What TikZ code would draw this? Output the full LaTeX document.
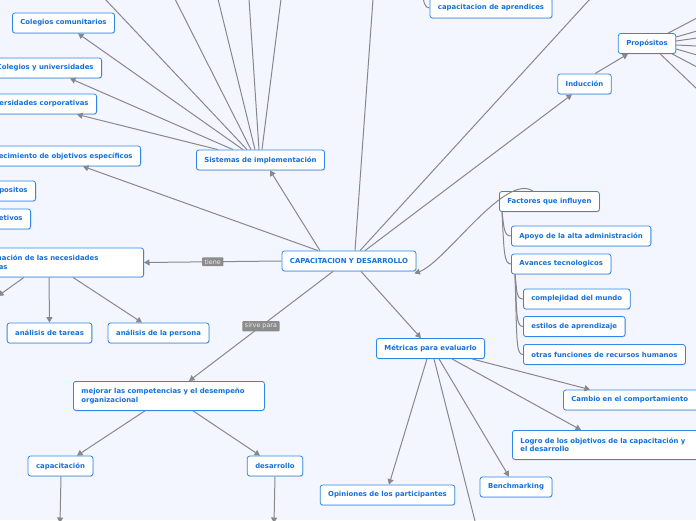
\documentclass[tikz,border=0pt]{standalone}
\usepackage{fontspec}
\setmainfont{DejaVu Sans}
\usetikzlibrary{arrows.meta, shadows}

\definecolor{bgblue}{RGB}{243,246,254}
\definecolor{topicblue}{RGB}{48,136,230}
\definecolor{topictext}{RGB}{20,112,216}
\definecolor{linkgray}{RGB}{136,136,140}
\definecolor{labelgray}{RGB}{140,140,140}

\begin{document}
\begin{tikzpicture}[x=1pt, y=-1pt, >={Triangle[width=6pt, length=5.5pt]},
    topic/.style={draw=topicblue, fill=white, text=topictext, line width=0.8pt,
        rounded corners=2.5pt, font=\fontsize{6.9}{8.6}\selectfont\bfseries,
        inner xsep=8pt, inner ysep=0pt, minimum height=20pt,
        drop shadow={shadow xshift=0.6pt, shadow yshift=-0.9pt, opacity=0.25}},
    widetopic/.style={topic, align=left, text width=#1, minimum height=29pt},
    link/.style={linkgray, line width=1pt},
    linklabel/.style={fill=labelgray, text=white!92!black, font=\fontsize{6.4}{7}\selectfont,
        inner xsep=2.5pt, inner ysep=2pt, rounded corners=0.8pt}]
    \fill[bgblue] (0,0) rectangle (696,520);
    \useasboundingbox (0,0) rectangle (696,520);
    \clip (0,0) rectangle (696,520);

    \node[topic] (cyd) at (349,261) {CAPACITACION Y DESARROLLO};
    \node[topic] (sis) at (260.5,160) {Sistemas de implementación};
    \node[topic] (ccom) at (63.5,23) {Colegios comunitarios};
    \node[topic, anchor=east] (cuni) at (102,68) {Colegios y universidades};
    \node[topic, anchor=east] (ucorp) at (97,104) {Universidades corporativas};
    \node[topic, anchor=east] (estab) at (141,156) {Establecimiento de objetivos específicos};
    \node[topic, anchor=east] (props) at (36,191) {Propositos};
    \node[topic, anchor=east] (objs) at (31,219) {Objetivos};
    \node[widetopic=170pt, anchor=east] (deter) at (144,262.5) {Determinación de las necesidades\\formativas};
    \node[topic] (atar) at (49.5,333) {análisis de tareas};
    \node[topic] (apers) at (158.5,333) {análisis de la persona};
    \node[widetopic=175pt, anchor=north west] (mejora) at (73,381) {mejorar las competencias y el desempeño\\organizacional};
    \node[topic] (capac) at (60.5,466) {capacitación};
    \node[topic] (desar) at (275,466) {desarrollo};

    \node[topic] (metr) at (430.5,348.5) {Métricas para evaluarlo};
    \node[topic, anchor=west, align=left, text width=130pt] (cambio) at (563,400) {Cambio en el comportamiento};
    \node[widetopic=195pt, anchor=north west] (logro) at (512,430) {Logro de los objetivos de la capacitación y\\el desarrollo};
    \node[topic] (bench) at (516,487) {Benchmarking};
    \node[topic] (opin) at (387.5,495) {Opiniones de los participantes};

    \node[topic] (induc) at (584.5,84) {Inducción};
    \node[topic] (propo) at (647,43.5) {Propósitos};
    \node[topic] (aprend) at (491,8) {capacitacion de aprendices};

    \node[topic, anchor=west] (factor) at (499,201.5) {Factores que influyen};
    \node[topic, anchor=west] (apoyo) at (511,236) {Apoyo de la alta administración};
    \node[topic, anchor=west] (avanc) at (511,264) {Avances tecnologicos};
    \node[topic, anchor=west] (compl) at (523,299) {complejidad del mundo};
    \node[topic, anchor=west] (estil) at (523,326.5) {estilos de aprendizaje};
    \node[topic, anchor=west] (otras) at (523,354.5) {otras funciones de recursos humanos};

    % free ends beyond the border
    \foreach \n/\x/\y in {s1/105/-1, s2/175/-1, s3/218/-1, s4/249/-1, s5/281/-1,
            c1/373/-1, c2/590/-1, d1/-2/296, m1/475/521, k1/60/523, k2/274/523,
            p1/697/18, p2/697/31, p3/697/38, p4/697/46, p5/697/55, p6/697/67, p7/697/89,
            aprtop/423/-10}
        \coordinate (\n) at (\x,\y);

    \path[link, ->] ([xshift=-29pt]cyd.north) edge ([xshift=9.5pt]sis.south)
          ([xshift=-31pt]cyd.north) edge ([xshift=-58pt]estab.south east)
          (cyd.west) edge node[linklabel] {tiene} (deter.east)
          ([xshift=-16pt]cyd.south) edge node[linklabel] {sirve para} ([xshift=116pt]mejora.north west)
          ([xshift=12pt]cyd.south) edge ([xshift=-9.5pt]metr.north)
          ([xshift=16pt]cyd.north) edge ([xshift=-12.5pt]induc.south);
    \path[link] ([xshift=11pt]cyd.north) edge (c2)
          ([xshift=6pt]cyd.north) edge (c1);

    \path[link, ->] ([xshift=-17.5pt]sis.north) edge ([xshift=14.5pt]ccom.south)
          ([xshift=-27.5pt]sis.north) edge ([xshift=-32pt]cuni.south east)
          ([xshift=-42.5pt]sis.north) edge ([xshift=-20pt]ucorp.south east);
    \path[link] ([xshift=-13.5pt]sis.north) edge (s1)
          ([xshift=-9.5pt]sis.north) edge (s2)
          ([xshift=-5.5pt]sis.north) edge (s3)
          ([xshift=-1.5pt]sis.north) edge (s4)
          ([xshift=1.5pt]sis.north) edge (s5);

    \path[link, ->] ([xshift=-95pt]deter.south east) edge (atar.north)
          ([xshift=-71pt]deter.south east) edge ([xshift=-16.5pt]apers.north)
          ([xshift=-120pt]deter.south east) edge (d1);

    \path[link, ->] ([xshift=72pt]mejora.south west) edge ([xshift=16.5pt]capac.north)
          ([xshift=120pt]mejora.south west) edge ([xshift=-15pt]desar.north)
          ([xshift=0.5pt]capac.south) edge (k1)
          (desar.south) edge (k2);

    \path[link, ->] ([xshift=-3.5pt]metr.south) edge ([xshift=1.5pt]opin.north)
          ([xshift=8.5pt]metr.south) edge ([xshift=-7pt]bench.north)
          ([xshift=21.5pt]metr.south) edge ([xshift=69pt]logro.north west)
          ([xshift=41.5pt]metr.south) edge ([xshift=27pt]cambio.north west);
    \path[link] ([xshift=3.5pt]metr.south) edge (m1);

    \path[link, ->] ([xshift=10.5pt]induc.north) edge ([xshift=-19pt]propo.south);
    \path[link] ([xshift=-8pt]propo.north east) edge (p1)
          ([yshift=6.5pt]propo.east) edge (p2)
          ([yshift=2.5pt]propo.east) edge (p3)
          ([yshift=-1.5pt]propo.east) edge (p4)
          ([yshift=-5.5pt]propo.east) edge (p5)
          ([xshift=-4pt]propo.south east) edge (p6)
          ([xshift=-16pt]propo.south east) edge (p7);

    \draw[link] (aprtop) .. controls +(0,12) and +(-5,0) .. (aprend.west);

    \draw[link, ->] ([xshift=34pt]factor.north west) .. controls +(-28,-19) and +(31,-11) .. ([xshift=-2pt, yshift=-2pt]cyd.south east);
    \draw[link] ([xshift=3pt]factor.south west) .. controls +(2,16) and +(-7,0) .. (apoyo.west);
    \draw[link] ([xshift=3pt]factor.south west) .. controls +(2,40) and +(-7,0) .. (avanc.west);
    \draw[link] ([xshift=4pt]avanc.south west) .. controls +(2,16) and +(-7,0) .. (compl.west);
    \draw[link] ([xshift=4pt]avanc.south west) .. controls +(2,40) and +(-7,0) .. (estil.west);
    \draw[link] ([xshift=4pt]avanc.south west) .. controls +(2,68) and +(-7,0) .. (otras.west);
\end{tikzpicture}
\end{document}
